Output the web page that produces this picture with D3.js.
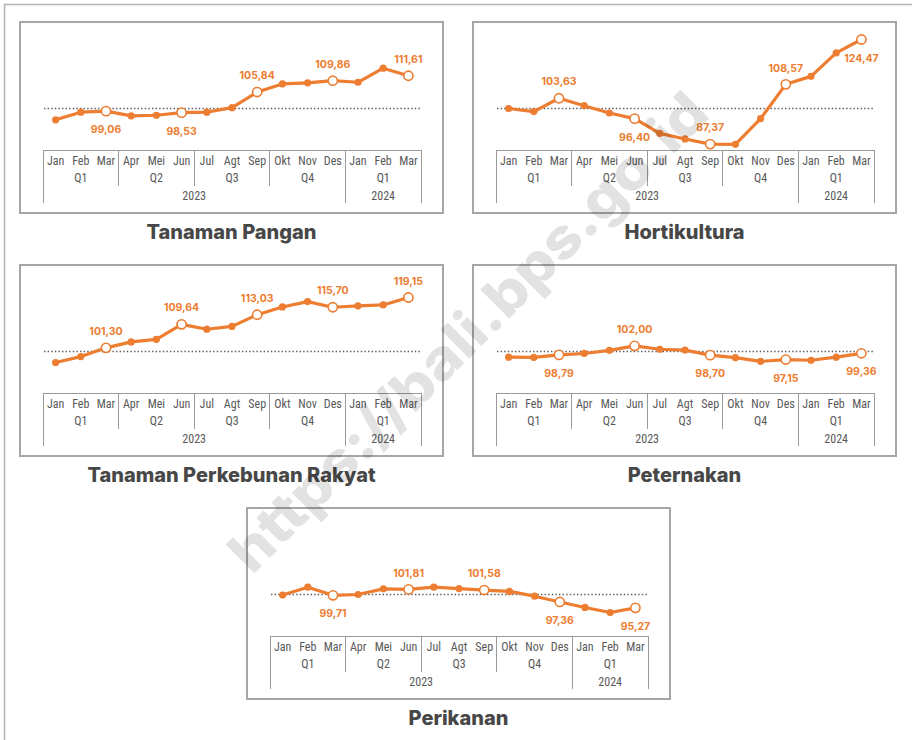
<!DOCTYPE html>
<html>
<head>
<meta charset="utf-8">
<script src="https://cdn.jsdelivr.net/npm/d3@7"></script>
<style>
  body { margin: 0; background: #fff; }
  .month, .quarter, .year { font-family: "Liberation Sans Narrow", "Arial Narrow", "Roboto Condensed", sans-serif; font-size: 12px; fill: #595959; }
  .val { font-family: Inter, "Open Sans", sans-serif; font-weight: 700; font-size: 10.5px; fill: #ED7D31; }
  .title { font-family: Inter, "Open Sans", sans-serif; font-weight: 800; font-size: 20px; fill: #474747; }
  .wm { font-family: Inter, "Open Sans", sans-serif; font-weight: 800; font-size: 56px; fill: #000; opacity: 0.11; }
</style>
</head>
<body>
<div id="chart"></div>
<script>
// tick labels
var months = ["Jan","Feb","Mar","Apr","Mei","Jun","Jul","Agt","Sep","Okt","Nov","Des","Jan","Feb","Mar"];
var quarters = ["Q1","Q2","Q3","Q4","Q1"];
var years = ["2023","2024"];

// series values (2018=100), Jan 2023 - Mar 2024
var tanamanPangan = [96.0, 98.7, 99.06, 97.4, 97.6, 98.53, 98.7, 100.3, 105.84, 108.7, 109.1, 109.86, 109.3, 114.3, 111.61];
var hortikultura = [100.0, 98.9, 103.63, 101.0, 98.4, 96.40, 91.2, 89.2, 87.37, 87.3, 96.4, 108.57, 111.4, 119.7, 124.47];
var perkebunan = [96.1, 98.2, 101.30, 103.4, 104.3, 109.64, 107.9, 108.9, 113.03, 115.8, 117.7, 115.70, 116.2, 116.5, 119.15];
var peternakan = [98.0, 97.9, 98.79, 99.3, 100.4, 102.00, 100.8, 100.5, 98.70, 97.8, 96.5, 97.15, 96.9, 98.0, 99.36];
var perikanan = [99.8, 102.6, 99.71, 100.0, 102.0, 101.81, 102.6, 102.1, 101.58, 101.1, 99.4, 97.36, 95.4, 93.6, 95.27];

// label side for the quarter-end points (Mar, Jun, Sep, Des, Mar)
var sidePangan = ["b","b","a","a","a"];
var sideHorti = ["a","b","a","a","b"];
var sideKebun = ["a","a","a","a","a"];
var sideTernak = ["b","a","b","b","b"];
var sideIkan = ["b","a","a","b","b"];

var panels = [
  {name: "Tanaman Pangan", values: tanamanPangan, side: sidePangan},
  {name: "Hortikultura", values: hortikultura, side: sideHorti},
  {name: "Tanaman Perkebunan Rakyat", values: perkebunan, side: sideKebun},
  {name: "Peternakan", values: peternakan, side: sideTernak},
  {name: "Perikanan", values: perikanan, side: sideIkan}
];

var W = 912, H = 740;
var boxW = 423, boxH = 191;
var orange = "#ED7D31";
var fmt = d3.formatLocale({decimal: ",", thousands: ".", grouping: [3], currency: ["", ""]}).format(".2f");

var svg = d3.select("#chart").append("svg")
  .attr("width", W)
  .attr("height", H);

// outer frame
svg.append("rect")
  .attr("x", 4.5).attr("y", 4.5)
  .attr("width", W + 10).attr("height", H + 10)
  .attr("fill", "none")
  .attr("stroke", "#b3b3b3")
  .attr("stroke-width", 1.5);

var origins = [[20, 22], [473, 22], [20, 265], [473, 265], [247, 508]];

// shared y scale, same for all panels
var yScale = d3.scaleLinear().domain([85, 130]).range([128.8, 1.9]);
var xScale = d3.scaleBand().domain(d3.range(months.length)).range([23, 401]);

panels.forEach(function(p, pi) {
  var g = svg.append("g")
    .attr("transform", "translate(" + origins[pi][0] + "," + origins[pi][1] + ")");

  g.append("rect")
    .attr("x", 0).attr("y", 0)
    .attr("width", boxW).attr("height", boxH)
    .attr("fill", "#fff")
    .attr("stroke", "#a6a6a6")
    .attr("stroke-width", 2);

  // table under the plot
  var tTop = 128, x0 = xScale.range()[0], x1 = xScale.range()[1], step = xScale.step();
  var tbl = g.append("g").attr("stroke", "#9a9a9a").attr("stroke-width", 1).attr("shape-rendering", "crispEdges");
  tbl.append("line").attr("x1", x0).attr("x2", x1).attr("y1", tTop).attr("y2", tTop);
  [0, 12, 15].forEach(function(i) {
    tbl.append("line").attr("x1", x0 + i * step).attr("x2", x0 + i * step).attr("y1", tTop).attr("y2", 181);
  });
  [3, 6, 9].forEach(function(i) {
    tbl.append("line").attr("x1", x0 + i * step).attr("x2", x0 + i * step).attr("y1", tTop).attr("y2", 164);
  });

  g.selectAll(".month")
    .data(months).enter()
    .append("text")
    .attr("class", "month")
    .attr("x", (d, i) => xScale(i) + xScale.bandwidth() / 2)
    .attr("y", 139)
    .attr("dy", "0.35em")
    .attr("text-anchor", "middle")
    .text(d => d);

  g.selectAll(".quarter")
    .data(quarters).enter()
    .append("text")
    .attr("class", "quarter")
    .attr("x", (d, i) => x0 + (i * 3 + 1.5) * step)
    .attr("y", 156)
    .attr("dy", "0.35em")
    .attr("text-anchor", "middle")
    .text(d => d);

  g.selectAll(".year")
    .data(years).enter()
    .append("text")
    .attr("class", "year")
    .attr("x", (d, i) => i == 0 ? x0 + 6 * step : x0 + 13.5 * step)
    .attr("y", 174)
    .attr("dy", "0.35em")
    .attr("text-anchor", "middle")
    .text(d => d);

  // reference line at 100
  g.append("line")
    .attr("x1", 24).attr("x2", 400)
    .attr("y1", yScale(100)).attr("y2", yScale(100))
    .attr("stroke", "#595959")
    .attr("stroke-width", 1.6)
    .attr("stroke-dasharray", "1.4,2.2");

  var line = d3.line()
    .x((d, i) => xScale(i) + xScale.bandwidth() / 2)
    .y(d => yScale(d));

  g.append("path")
    .attr("d", line(p.values))
    .attr("fill", "none")
    .attr("stroke", orange)
    .attr("stroke-width", 3.2)
    .attr("stroke-linejoin", "round");

  var pts = p.values.map((v, i) => ({v: v, i: i, q: i % 3 == 2}));

  g.selectAll(".dot")
    .data(pts).enter()
    .append("circle")
    .attr("cx", d => xScale(d.i) + xScale.bandwidth() / 2)
    .attr("cy", d => yScale(d.v))
    .attr("r", d => d.q ? 4.6 : 3.6)
    .attr("fill", d => d.q ? "#fff" : orange)
    .attr("stroke", orange)
    .attr("stroke-width", d => d.q ? 1.6 : 0);

  g.selectAll(".val")
    .data(pts.filter(d => d.q)).enter()
    .append("text")
    .attr("class", "val")
    .attr("x", d => xScale(d.i) + xScale.bandwidth() / 2)
    .attr("y", (d, k) => yScale(d.v) + (p.side[k] == "a" ? -16.5 : 18.5))
    .attr("dy", "0.35em")
    .attr("text-anchor", "middle")
    .text(d => fmt(d.v));

  g.append("text")
    .attr("class", "title")
    .attr("x", boxW / 2)
    .attr("y", 209.5)
    .attr("dy", "0.35em")
    .attr("text-anchor", "middle")
    .text(p.name);
});

// watermark
svg.append("text")
  .attr("class", "wm")
  .attr("transform", "translate(468,332) rotate(-45)")
  .attr("text-anchor", "middle")
  .attr("dy", "0.35em")
  .attr("textLength", 650)
  .attr("lengthAdjust", "spacingAndGlyphs")
  .text("https://bali.bps.go.id");
</script>
</body>
</html>
